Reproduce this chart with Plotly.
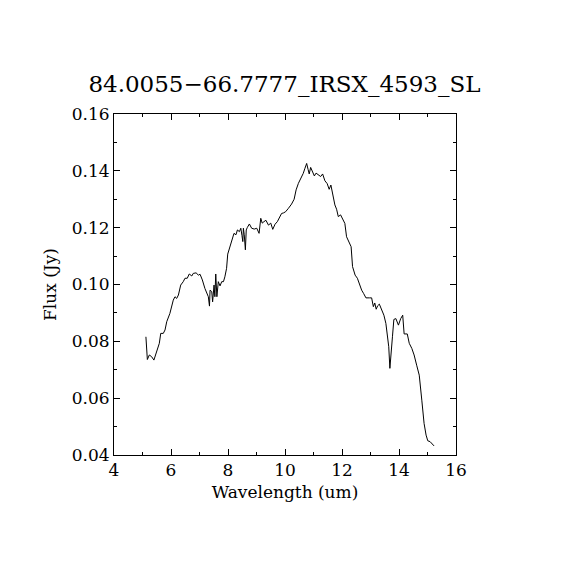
import plotly.graph_objects as go

# IRS spectrum
wavelength = [5.12, 5.14, 5.17, 5.24, 5.32, 5.40, 5.50, 5.59, 5.64, 5.73, 5.79, 5.85,
              5.96, 6.08, 6.14, 6.20, 6.26, 6.34, 6.43, 6.49, 6.57, 6.64, 6.73, 6.78,
              6.88, 6.96, 7.02, 7.10, 7.19, 7.25, 7.31, 7.35, 7.37, 7.43, 7.46, 7.51,
              7.54, 7.57, 7.61, 7.66, 7.72, 7.78, 7.84, 7.89, 7.95, 7.99, 8.07, 8.16,
              8.21, 8.28, 8.33, 8.40, 8.45, 8.49, 8.52, 8.54, 8.57, 8.61, 8.64, 8.68,
              8.75, 8.83, 8.92, 9.01, 9.09, 9.15, 9.20, 9.26, 9.33, 9.42, 9.50, 9.57,
              9.65, 9.73, 9.80, 9.88, 9.95, 10.02, 10.12, 10.23, 10.32, 10.39, 10.47,
              10.55, 10.64, 10.70, 10.76, 10.81, 10.85, 10.90, 10.96, 11.03, 11.09,
              11.17, 11.25, 11.32, 11.40, 11.48, 11.55, 11.61, 11.67, 11.75, 11.81,
              11.87, 11.95, 12.05, 12.10, 12.16, 12.25, 12.32, 12.37, 12.46, 12.54,
              12.61, 12.69, 12.76, 12.84, 12.96, 13.04, 13.10, 13.15, 13.20, 13.25,
              13.31, 13.39, 13.47, 13.54, 13.59, 13.64, 13.68, 13.72, 13.77, 13.82,
              13.89, 13.98, 14.06, 14.13, 14.18, 14.29, 14.36, 14.45, 14.53, 14.62,
              14.71, 14.80, 14.88, 14.95, 15.01, 15.09, 15.16, 15.23]
flux = [0.0816, 0.0764, 0.0736, 0.0752, 0.0746, 0.0734, 0.0764, 0.0793, 0.0828, 0.0828,
        0.0840, 0.0869, 0.0898, 0.0945, 0.0957, 0.0951, 0.0963, 0.0998, 0.1010, 0.1022,
        0.1022, 0.1037, 0.1030, 0.1039, 0.1041, 0.1033, 0.1036, 0.1016, 0.0986, 0.0969,
        0.0957, 0.0924, 0.0980, 0.0975, 0.0939, 0.0998, 0.0957, 0.1037, 0.0957, 0.1010,
        0.0995, 0.1010, 0.1010, 0.1027, 0.1057, 0.1107, 0.1133, 0.1157, 0.1180, 0.1175,
        0.1192, 0.1186, 0.1198, 0.1172, 0.1151, 0.1198, 0.1175, 0.1122, 0.1192, 0.1201,
        0.1213, 0.1198, 0.1195, 0.1198, 0.1180, 0.1233, 0.1216, 0.1221, 0.1226, 0.1209,
        0.1216, 0.1194, 0.1212, 0.1221, 0.1233, 0.1250, 0.1252, 0.1256, 0.1268, 0.1283,
        0.1300, 0.1333, 0.1356, 0.1370, 0.1391, 0.1409, 0.1426, 0.1405, 0.1389, 0.1412,
        0.1400, 0.1382, 0.1392, 0.1385, 0.1380, 0.1389, 0.1365, 0.1355, 0.1335, 0.1350,
        0.1320, 0.1280, 0.1265, 0.1239, 0.1245, 0.1227, 0.1215, 0.1168, 0.1151, 0.1133,
        0.1063, 0.1033, 0.1022, 0.0998, 0.0980, 0.0968, 0.0953, 0.0953, 0.0953, 0.0922,
        0.0935, 0.0913, 0.0925, 0.0931, 0.0910, 0.0892, 0.0863, 0.0828, 0.0781, 0.0705,
        0.0769, 0.0816, 0.0877, 0.0880, 0.0857, 0.0880, 0.0892, 0.0826, 0.0826, 0.0793,
        0.0775, 0.0752, 0.0716, 0.0681, 0.0593, 0.0511, 0.0470, 0.0450, 0.0447, 0.0440,
        0.0432]

title = "84.0055\u221266.7777_IRSX_4593_SL"
font_family = "DejaVu Serif"

fig = go.Figure(go.Scatter(x=wavelength, y=flux, mode="lines",
                           line=dict(color="black", width=1)))

axis_style = dict(showline=True, linecolor="black", linewidth=1, mirror="ticks",
                  ticks="inside", ticklen=6, tickcolor="black", showgrid=False,
                  zeroline=False, tickfont=dict(family=font_family, size=17, color="black"))

fig.update_xaxes(range=[4, 16], dtick=2, tick0=4,
                 minor=dict(dtick=1, ticks="inside", ticklen=3, tickcolor="black"),
                 title=dict(text="Wavelength (um)", standoff=6,
                            font=dict(family=font_family, size=17, color="black")),
                 **axis_style)
fig.update_yaxes(range=[0.04, 0.16], dtick=0.02, tick0=0.04, tickformat=".2f",
                 minor=dict(dtick=0.01, ticks="inside", ticklen=3, tickcolor="black"),
                 title=dict(text="Flux (Jy)", standoff=10,
                            font=dict(family=font_family, size=17, color="black")),
                 **axis_style)

# the page body adds 8 px on the left and top, so margins are shifted to match
fig.update_layout(
    width=570, height=570,
    margin=dict(l=106, r=122, t=106, b=123),
    paper_bgcolor="white", plot_bgcolor="white",
    showlegend=False,
    title=dict(text=title, x=0.485, xanchor="center", y=0.866, yanchor="middle",
               font=dict(family=font_family, size=23, color="black")),
)

fig.write_html("out.html")
